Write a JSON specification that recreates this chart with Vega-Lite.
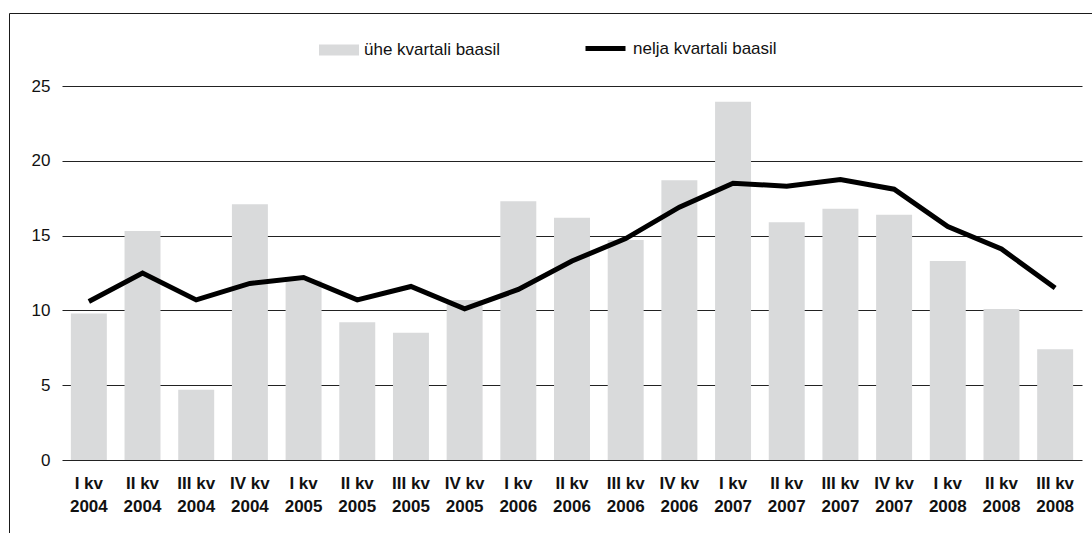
{
  "$schema": "https://vega.github.io/schema/vega-lite/v6.json",
  "width": 1084,
  "height": 521,
  "autosize": {"type": "none"},
  "padding": {"left": 9, "top": 13, "right": 0, "bottom": 0},
  "background": "white",
  "config": {
    "view": {"stroke": "#1a1a1a", "strokeWidth": 1},
    "font": "Liberation Sans"
  },
  "data": {
    "values": [
      {"kv": "I kv 2004", "yks": 9.8, "neli": 10.6},
      {"kv": "II kv 2004", "yks": 15.3, "neli": 12.5},
      {"kv": "III kv 2004", "yks": 4.7, "neli": 10.7},
      {"kv": "IV kv 2004", "yks": 17.1, "neli": 11.8},
      {"kv": "I kv 2005", "yks": 12.0, "neli": 12.2},
      {"kv": "II kv 2005", "yks": 9.2, "neli": 10.7},
      {"kv": "III kv 2005", "yks": 8.5, "neli": 11.6},
      {"kv": "IV kv 2005", "yks": 10.7, "neli": 10.1},
      {"kv": "I kv 2006", "yks": 17.3, "neli": 11.4},
      {"kv": "II kv 2006", "yks": 16.2, "neli": 13.3},
      {"kv": "III kv 2006", "yks": 14.7, "neli": 14.8},
      {"kv": "IV kv 2006", "yks": 18.7, "neli": 16.9},
      {"kv": "I kv 2007", "yks": 23.95, "neli": 18.5},
      {"kv": "II kv 2007", "yks": 15.9, "neli": 18.3},
      {"kv": "III kv 2007", "yks": 16.8, "neli": 18.75},
      {"kv": "IV kv 2007", "yks": 16.4, "neli": 18.1},
      {"kv": "I kv 2008", "yks": 13.3, "neli": 15.6},
      {"kv": "II kv 2008", "yks": 10.1, "neli": 14.1},
      {"kv": "III kv 2008", "yks": 7.4, "neli": 11.5}
    ]
  },
  "encoding": {
    "x": {
      "field": "kv",
      "type": "nominal",
      "sort": null,
      "scale": {"range": [53, 1073], "paddingInner": 0.33, "paddingOuter": 0.165},
      "axis": {
        "orient": "bottom",
        "offset": -74,
        "title": null,
        "domain": false,
        "ticks": false,
        "tickSize": 0,
        "grid": false,
        "labelAngle": 0,
        "labelPadding": 15,
        "labelFontSize": 17,
        "labelFontWeight": "bold",
        "labelColor": "#111",
        "labelLineHeight": 23,
        "labelBaseline": "top",
        "labelExpr": "[slice(datum.label, 0, -5), slice(datum.label, -4)]"
      }
    }
  },
  "layer": [
    {
      "mark": {"type": "bar"},
      "encoding": {
        "y": {
          "field": "yks",
          "type": "quantitative",
          "scale": {"domain": [0, 25], "range": [447, 73], "nice": false, "zero": true},
          "axis": {
            "orient": "left",
            "offset": -53,
            "title": null,
            "domain": false,
            "ticks": false,
            "tickSize": 0,
            "labelPadding": 12,
            "values": [0, 5, 10, 15, 20, 25],
            "grid": true,
            "gridColor": "#222",
            "gridWidth": 1,
            "gridOpacity": 1,
            "labelFontSize": 17,
            "labelColor": "#111"
          }
        },
        "fill": {
          "datum": "ühe kvartali baasil",
          "type": "nominal",
          "scale": {"range": ["#d9dadb"]},
          "legend": {
            "orient": "none",
            "legendX": 310,
            "legendY": 17,
            "title": null,
            "padding": 0,
            "symbolType": "M-1,-0.275H1V0.275H-1Z",
            "symbolSize": 1600,
            "symbolStrokeWidth": 0,
            "labelFontSize": 17,
            "labelOffset": 5,
            "labelLimit": 300,
            "labelColor": "#111"
          }
        }
      }
    },
    {
      "mark": {"type": "line", "strokeWidth": 5},
      "encoding": {
        "y": {"field": "neli", "type": "quantitative"},
        "stroke": {
          "datum": "nelja kvartali baasil",
          "type": "nominal",
          "scale": {"range": ["#000000"]},
          "legend": {
            "orient": "none",
            "legendX": 574,
            "legendY": 13,
            "title": null,
            "padding": 0,
            "symbolType": "M-1,0H1",
            "symbolSize": 1600,
            "symbolStrokeWidth": 5,
            "labelFontSize": 17,
            "labelOffset": 5,
            "labelLimit": 300,
            "labelColor": "#111"
          }
        }
      }
    }
  ],
  "resolve": {"scale": {"fill": "independent", "stroke": "independent"}}
}
